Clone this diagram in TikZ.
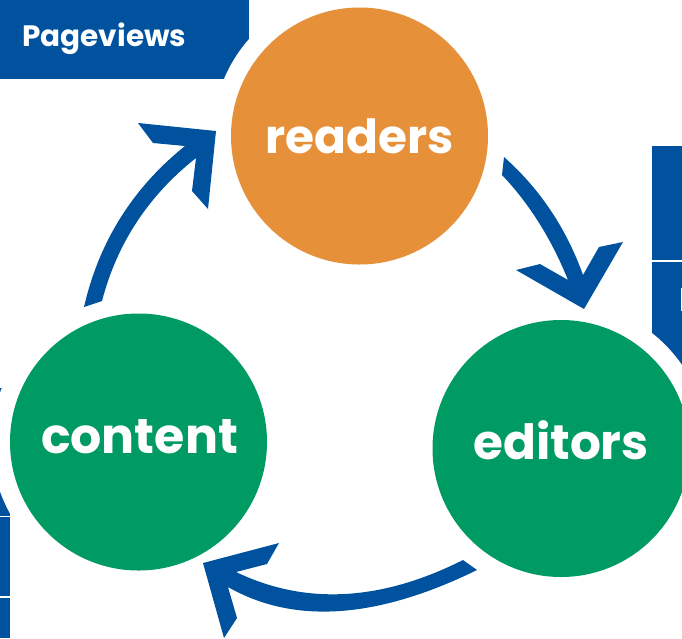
\documentclass[tikz,border=0pt]{standalone}
\usepackage{fontspec}
\setmainfont{Poppins}[BoldFont={* Bold}]
\definecolor{brandblue}{RGB}{0,82,159}
\definecolor{brandorange}{RGB}{230,145,58}
\definecolor{brandgreen}{RGB}{0,154,99}
\newcommand{\stagetext}[3]{\fontsize{#1}{#1}\selectfont\smash{\raisebox{-#2pt}{#3}}}
\tikzset{
  stage/.style={circle,inner sep=0pt,minimum size=257pt,text=white,font=\bfseries},
  halo/.style={fill=white,draw=none},
  panel/.style={fill=brandblue,draw=none},
  flow/.style={fill=brandblue,draw=none},
  rule/.style={fill=white,draw=none}
}
\begin{document}
\begin{tikzpicture}[x=1pt,y=-1pt]
\useasboundingbox (0,0) rectangle (682,638);
\clip (0,0) rectangle (682,638);
% clipped panels
\fill[panel] (0,0) -- (249,0) -- (249,79) -- (0,79) -- cycle;
\fill[panel] (652,146) rectangle (682,420);
\fill[panel] (0,388) rectangle (10,638);
% halos
\coordinate (cr) at (359.5,136);
\coordinate (ce) at (561,448.5);
\coordinate (cc) at (138.5,442);
\fill[halo] (cr) circle (147);
\fill[halo] (ce) circle (147);
\fill[halo] (cc) circle (147);
% rules on panels
\fill[rule] (652,260.3) rectangle (682,261.7);
\fill[rule] (0,596.4) rectangle (11,597.8);
\fill[rule] (0,516.2) rectangle (11,517.4);
\fill[rule] (10,517) rectangle (11,638);
\fill[rule] (680.6,288) rectangle (682,311);
% nodes
\node[stage,fill=brandorange] (readers) at (cr) {\stagetext{47}{17.5}{readers}};
\node[stage,fill=brandgreen] (editors) at (ce) {\stagetext{48.5}{10.5}{editors}};
\node[stage,fill=brandgreen] (content) at (cc) {\hspace{2pt}\stagetext{49}{11.5}{content}};
\node[anchor=base west,inner sep=0pt,text=white,font=\fontsize{29.5}{29.5}\selectfont\bfseries] (pv) at (22,46) {Pageviews};
% arrows
\fill[flow] (504,157) .. controls (540,189) and (566.3,228.3) .. (583,275) -- (599,247) -- (623,242) -- (584,309) -- (516,270) -- (540,264) -- (568,280) .. controls (551.3,238.7) and (529.3,203.7) .. (502,175) -- cycle;
\fill[flow] (463,560) .. controls (381,601.3) and (305.3,605.3) .. (236,572) -- (267,564) -- (279,543) -- (203,563) -- (224,638) -- (237,618) -- (228,587) .. controls (294,624.7) and (377,619) .. (477,570) -- cycle;
\fill[flow] (84,307) .. controls (99,241.7) and (132.7,188) .. (185,146) -- (153,143) -- (138,123) -- (216,131) -- (208,209) -- (192,191) -- (196,158) .. controls (148.5,195.5) and (117.1,243.2) .. (102,301) -- cycle;
\end{tikzpicture}
\end{document}
